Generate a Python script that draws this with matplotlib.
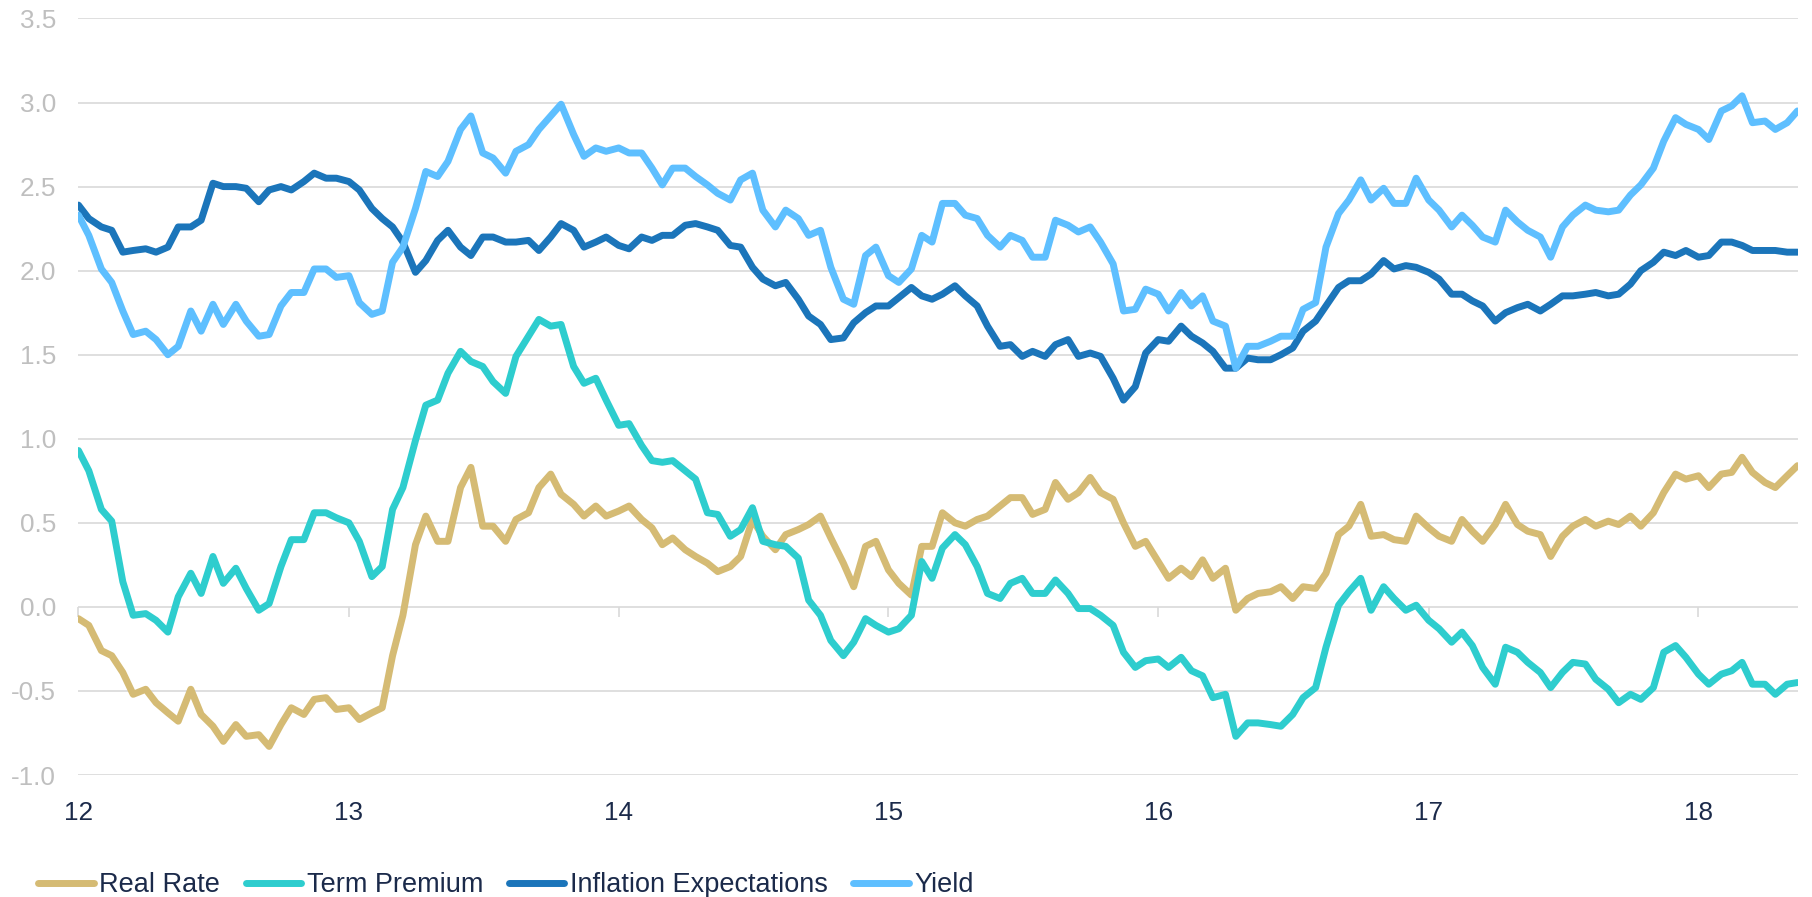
import numpy as np
import pandas as pd
import matplotlib
matplotlib.use("Agg")
from matplotlib import pyplot as plt
import matplotlib.dates as mdates

# semi-monthly observations, Jan 2012 - May 2018
dates = pd.date_range("2012-01-01", "2018-05-15", freq="SMS")

names = ["Real Rate", "Term Premium", "Inflation Expectations", "Yield"]

real_rate = [
    -0.07, -0.11, -0.26, -0.29, -0.39, -0.52, -0.49, -0.57, -0.63, -0.68, -0.49, -0.64, -0.71,
    -0.80, -0.70, -0.77, -0.76, -0.83, -0.70, -0.60, -0.64, -0.55, -0.54, -0.61, -0.60,
    -0.67, -0.63, -0.60, -0.29, -0.05, 0.37, 0.54, 0.39, 0.39, 0.71, 0.83, 0.48,
    0.48, 0.39, 0.52, 0.56, 0.71, 0.79, 0.67, 0.61, 0.54, 0.60, 0.54, 0.57,
    0.60, 0.52, 0.47, 0.37, 0.41, 0.34, 0.30, 0.26, 0.21, 0.24, 0.30, 0.52,
    0.42, 0.34, 0.43, 0.46, 0.49, 0.54, 0.41, 0.26, 0.12, 0.36, 0.39, 0.22,
    0.14, 0.07, 0.36, 0.36, 0.56, 0.50, 0.48, 0.52, 0.54, 0.60, 0.65, 0.65,
    0.55, 0.58, 0.74, 0.64, 0.68, 0.77, 0.68, 0.64, 0.50, 0.36, 0.39, 0.27,
    0.17, 0.23, 0.18, 0.28, 0.17, 0.23, -0.02, 0.05, 0.08, 0.09, 0.12, 0.05,
    0.12, 0.11, 0.20, 0.43, 0.48, 0.61, 0.42, 0.43, 0.40, 0.39, 0.54, 0.47,
    0.42, 0.39, 0.52, 0.45, 0.39, 0.49, 0.61, 0.49, 0.45, 0.43, 0.30, 0.42,
    0.48, 0.52, 0.48, 0.51, 0.49, 0.54, 0.48, 0.56, 0.68, 0.79, 0.76, 0.78,
    0.71, 0.79, 0.80, 0.89, 0.80, 0.74, 0.71, 0.78, 0.84,
]

term_premium = [
    0.93, 0.81, 0.58, 0.51, 0.15, -0.05, -0.04, -0.08, -0.15, 0.06, 0.20, 0.08, 0.30,
    0.14, 0.23, 0.11, -0.02, 0.02, 0.24, 0.40, 0.40, 0.56, 0.56, 0.53, 0.50,
    0.39, 0.18, 0.24, 0.58, 0.71, 0.99, 1.20, 1.23, 1.39, 1.52, 1.46, 1.43,
    1.34, 1.27, 1.49, 1.61, 1.71, 1.67, 1.68, 1.43, 1.33, 1.36, 1.23, 1.08,
    1.09, 0.96, 0.87, 0.86, 0.87, 0.81, 0.76, 0.56, 0.55, 0.42, 0.46, 0.59,
    0.39, 0.37, 0.36, 0.29, 0.04, -0.05, -0.20, -0.29, -0.21, -0.07, -0.11, -0.15,
    -0.13, -0.05, 0.27, 0.17, 0.35, 0.43, 0.37, 0.24, 0.08, 0.05, 0.14, 0.17,
    0.08, 0.08, 0.16, 0.08, -0.01, -0.01, -0.05, -0.11, -0.27, -0.36, -0.32, -0.31,
    -0.36, -0.30, -0.38, -0.41, -0.54, -0.52, -0.77, -0.69, -0.69, -0.70, -0.71, -0.64,
    -0.54, -0.48, -0.24, 0.01, 0.09, 0.17, -0.02, 0.12, 0.05, -0.02, 0.01, -0.08,
    -0.13, -0.21, -0.15, -0.23, -0.36, -0.46, -0.24, -0.27, -0.33, -0.39, -0.48, -0.39,
    -0.33, -0.34, -0.43, -0.49, -0.57, -0.52, -0.55, -0.48, -0.27, -0.23, -0.30, -0.40,
    -0.46, -0.40, -0.38, -0.33, -0.46, -0.46, -0.52, -0.46, -0.45,
]

inflation_exp = [
    2.39, 2.31, 2.26, 2.24, 2.11, 2.12, 2.13, 2.11, 2.14, 2.26, 2.26, 2.30, 2.52,
    2.50, 2.50, 2.49, 2.41, 2.48, 2.50, 2.48, 2.53, 2.58, 2.55, 2.55, 2.53,
    2.48, 2.37, 2.31, 2.26, 2.17, 1.99, 2.06, 2.18, 2.24, 2.14, 2.09, 2.20,
    2.20, 2.17, 2.17, 2.18, 2.12, 2.20, 2.28, 2.24, 2.14, 2.17, 2.20, 2.15,
    2.13, 2.20, 2.18, 2.21, 2.21, 2.27, 2.28, 2.26, 2.24, 2.15, 2.14, 2.02,
    1.95, 1.91, 1.93, 1.83, 1.73, 1.68, 1.59, 1.60, 1.69, 1.75, 1.79, 1.79,
    1.84, 1.90, 1.85, 1.83, 1.86, 1.91, 1.85, 1.79, 1.67, 1.55, 1.56, 1.49,
    1.52, 1.49, 1.56, 1.59, 1.49, 1.51, 1.49, 1.36, 1.23, 1.31, 1.51, 1.59,
    1.58, 1.67, 1.61, 1.57, 1.52, 1.42, 1.42, 1.48, 1.47, 1.47, 1.50, 1.54,
    1.64, 1.70, 1.79, 1.90, 1.94, 1.94, 1.98, 2.06, 2.01, 2.03, 2.02, 1.99,
    1.95, 1.86, 1.86, 1.82, 1.79, 1.70, 1.75, 1.78, 1.80, 1.76, 1.80, 1.85,
    1.85, 1.86, 1.87, 1.85, 1.86, 1.92, 2.00, 2.05, 2.11, 2.09, 2.12, 2.08,
    2.09, 2.17, 2.17, 2.15, 2.12, 2.12, 2.12, 2.11, 2.11,
]

yield_10y = [
    2.33, 2.21, 2.01, 1.93, 1.76, 1.62, 1.64, 1.59, 1.50, 1.55, 1.76, 1.64, 1.80,
    1.68, 1.80, 1.70, 1.61, 1.62, 1.79, 1.87, 1.87, 2.01, 2.01, 1.96, 1.97,
    1.81, 1.74, 1.76, 2.05, 2.14, 2.37, 2.59, 2.56, 2.65, 2.84, 2.92, 2.70,
    2.67, 2.58, 2.71, 2.75, 2.84, 2.92, 2.99, 2.81, 2.68, 2.73, 2.71, 2.73,
    2.70, 2.70, 2.61, 2.51, 2.61, 2.61, 2.56, 2.51, 2.46, 2.42, 2.54, 2.58,
    2.36, 2.26, 2.36, 2.31, 2.21, 2.24, 2.02, 1.83, 1.80, 2.09, 2.14, 1.97,
    1.93, 2.01, 2.21, 2.17, 2.40, 2.40, 2.33, 2.31, 2.21, 2.14, 2.21, 2.18,
    2.08, 2.08, 2.30, 2.27, 2.23, 2.26, 2.17, 2.04, 1.76, 1.77, 1.89, 1.86,
    1.76, 1.87, 1.79, 1.85, 1.70, 1.67, 1.42, 1.55, 1.55, 1.58, 1.61, 1.61,
    1.77, 1.81, 2.14, 2.34, 2.42, 2.54, 2.42, 2.49, 2.40, 2.40, 2.55, 2.42,
    2.36, 2.26, 2.33, 2.27, 2.20, 2.17, 2.36, 2.29, 2.24, 2.20, 2.08, 2.26,
    2.33, 2.39, 2.36, 2.35, 2.36, 2.45, 2.51, 2.61, 2.77, 2.91, 2.87, 2.84,
    2.78, 2.95, 2.98, 3.04, 2.88, 2.89, 2.84, 2.88, 2.95,
]

colors = ["#D5BB74", "#2ECDCE", "#1B75BA", "#5EBFFF"]
grid_color = "#D9D9D9"
navy = "#1B2A4A"

plt.rcParams["font.family"] = ["Liberation Sans", "DejaVu Sans"]

fig = plt.figure(figsize=(18.12, 8.97), dpi=100)
ax = fig.add_axes([0.0433, 0.136, 0.9487, 0.8434])

for vals, name, c in zip([real_rate, term_premium, inflation_exp, yield_10y], names, colors):
    ax.plot(dates, vals, color=c, lw=5.0, label=name,
            solid_joinstyle="round", solid_capstyle="round")

ax.set_ylim(-1.0, 3.5)
ax.set_yticks(np.arange(-1.0, 3.51, 0.5))
ax.yaxis.set_major_formatter(matplotlib.ticker.FormatStrFormatter("%.1f"))
ax.set_xlim(dates[0], dates[-1])
ax.xaxis.set_major_locator(mdates.YearLocator())
ax.xaxis.set_major_formatter(mdates.DateFormatter("%y"))

ax.grid(axis="y", color=grid_color, lw=1.2)
ax.set_axisbelow(True)
for s in ax.spines.values():
    s.set_visible(False)
ax.tick_params(axis="y", length=0, pad=16, labelsize=18.8, labelcolor="#BFBFBF")
ax.tick_params(axis="x", length=0, pad=19, labelsize=18.8, labelcolor=navy)

# small tick marks sitting on the zero line
sec = ax.secondary_xaxis(0, transform=ax.transData)
sec.set_xticks(ax.get_xticks())
sec.tick_params(direction="out", length=7, width=1.2, color=grid_color, labelbottom=False)
for s in sec.spines.values():
    s.set_visible(False)

fig.legend(loc="center left", bbox_to_anchor=(0.021, 0.013), ncol=4, frameon=False,
           fontsize=19.5, labelcolor=navy, handlelength=2.05, handletextpad=0.2,
           columnspacing=0.95, borderpad=0, borderaxespad=0)

fig.savefig("out.png", dpi=100)
